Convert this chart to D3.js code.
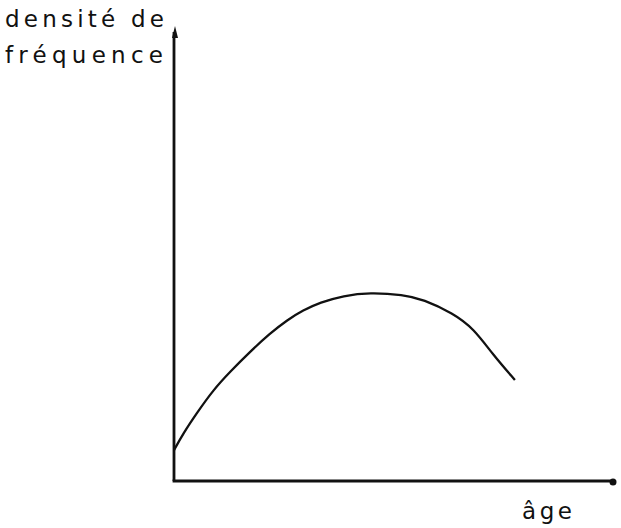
<!DOCTYPE html>
<html>
<head>
<meta charset="utf-8">
<script src="https://cdn.jsdelivr.net/npm/d3@7"></script>
<style>
  body { margin: 0; background: #fff; }
  text { font-family: "DejaVu Sans", sans-serif; fill: #111; }
</style>
</head>
<body>
<svg width="621" height="528"></svg>
<script>
// courbe (unités arbitraires 0-100)
var ages = [0, 2.1, 5.1, 8.9, 12.7, 17.2, 21.8, 25.6, 29.3, 33.1, 38.4, 44.4, 52.0, 56.5, 63.3, 67.9, 72.4, 77.3];
var densites = [6.8, 10.5, 14.9, 20.1, 24.1, 28.5, 32.6, 35.5, 37.7, 39.4, 40.9, 41.6, 41.1, 40.1, 37.0, 33.7, 27.8, 22.3];

var svg = d3.select("svg");

var x = d3.scaleLinear().domain([0, 100]).range([174, 615]);
var y = d3.scaleLinear().domain([0, 100]).range([481, 28]);

var data = ages.map(function(a, i) { return {a: a, d: densites[i]}; });

// axes
svg.append("line")
  .attr("x1", x(0)).attr("y1", y(0))
  .attr("x2", x(0)).attr("y2", y(100) + 4)
  .attr("stroke", "#111").attr("stroke-width", 2.8);

svg.append("line")
  .attr("x1", x(0) - 1.4).attr("y1", y(0))
  .attr("x2", x(100)).attr("y2", y(0))
  .attr("stroke", "#111").attr("stroke-width", 2.8);

// pointe en haut de l'axe vertical
svg.append("path")
  .attr("d", "M" + (x(0) + 1) + "," + (y(100) - 2) + " l-3,12 l6,0 z")
  .attr("fill", "#111");

// bout de l'axe horizontal
svg.append("circle")
  .attr("cx", x(100) - 2).attr("cy", y(0) + 1)
  .attr("r", 3.5).attr("fill", "#111");

var line = d3.line()
  .x(function(d) { return x(d.a); })
  .y(function(d) { return y(d.d); })
  .curve(d3.curveBasis);

svg.append("path")
  .datum(data)
  .attr("d", line)
  .attr("fill", "none")
  .attr("stroke", "#111")
  .attr("stroke-width", 2.3);

// libellés
svg.append("text")
  .attr("x", 5).attr("y", 27)
  .attr("font-size", 23)
  .attr("textLength", 159).attr("lengthAdjust", "spacing")
  .text("densité de");

svg.append("text")
  .attr("x", 5).attr("y", 63)
  .attr("font-size", 23)
  .attr("textLength", 158).attr("lengthAdjust", "spacing")
  .text("fréquence");

svg.append("text")
  .attr("x", 522).attr("y", 519)
  .attr("font-size", 23)
  .attr("textLength", 50).attr("lengthAdjust", "spacing")
  .text("âge");
</script>
</body>
</html>
